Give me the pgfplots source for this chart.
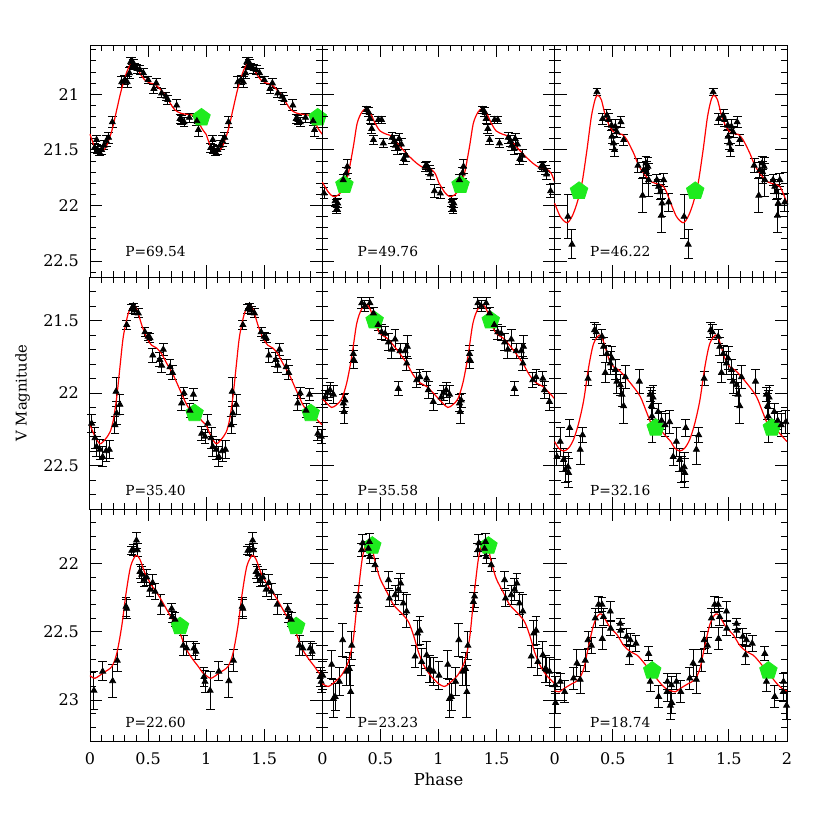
\documentclass[border=0pt]{standalone}
\usepackage{fontspec}
\setmainfont{DejaVu Serif}
\usepackage{pgfplots}
\pgfplotsset{compat=1.18}
\usepackage{pgfplotstable}
\usetikzlibrary{plotmarks}

\definecolor{pgreen}{RGB}{30,235,30}
\definecolor{pred}{RGB}{255,0,0}

% ---------------- Panel 1 (P=69.54)
\pgfplotstableread{
p m e
0.040 21.48 0.04
0.057 21.41 0.04
0.065 21.50 0.03
0.080 21.52 0.03
0.100 21.50 0.04
0.120 21.46 0.04
0.140 21.42 0.05
0.160 21.39 0.05
0.192 21.25 0.05
0.273 20.89 0.05
0.300 20.87 0.04
0.320 20.89 0.05
0.340 20.81 0.05
0.350 20.71 0.04
0.362 20.70 0.03
0.372 20.73 0.04
0.385 20.75 0.03
0.405 20.77 0.04
0.430 20.78 0.04
0.460 20.81 0.04
0.500 20.87 0.03
0.550 20.95 0.04
0.570 20.90 0.04
0.617 20.99 0.04
0.654 21.02 0.04
0.670 21.05 0.04
0.746 21.10 0.05
0.775 21.22 0.04
0.790 21.23 0.04
0.810 21.25 0.04
0.855 21.21 0.04
0.920 21.24 0.04
0.933 21.32 0.06
}\dA
\pgfplotstableread{
p m
0.00 21.36
0.04 21.47
0.09 21.52
0.14 21.47
0.19 21.32
0.23 21.14
0.27 20.96
0.32 20.79
0.36 20.72
0.39 20.74
0.43 20.81
0.47 20.87
0.52 20.90
0.56 20.91
0.60 20.95
0.65 21.01
0.69 21.08
0.73 21.14
0.78 21.17
0.83 21.18
0.89 21.19
0.93 21.24
0.965 21.31
1.00 21.36
}\cA
% ---------------- Panel 2 (P=49.76)
\pgfplotstableread{
p m e
0.015 21.89 0.05
0.110 21.96 0.05
0.120 22.00 0.05
0.125 22.03 0.04
0.132 21.98 0.04
0.180 21.77 0.05
0.205 21.71 0.05
0.215 21.65 0.06
0.380 21.14 0.03
0.397 21.16 0.04
0.410 21.22 0.04
0.425 21.31 0.04
0.440 21.41 0.04
0.482 21.23 0.03
0.510 21.23 0.03
0.525 21.44 0.04
0.600 21.39 0.05
0.620 21.42 0.05
0.630 21.46 0.05
0.650 21.49 0.05
0.660 21.40 0.05
0.680 21.45 0.05
0.700 21.58 0.05
0.720 21.55 0.05
0.885 21.65 0.04
0.900 21.64 0.04
0.920 21.68 0.04
0.930 21.72 0.05
0.965 21.87 0.06
}\dB
\pgfplotstableread{
p m
0.000 21.79
0.052 21.88
0.095 21.92
0.138 21.905
0.180 21.85
0.224 21.71
0.267 21.47
0.300 21.26
0.340 21.16
0.376 21.13
0.410 21.16
0.454 21.26
0.497 21.33
0.554 21.36
0.600 21.38
0.669 21.47
0.740 21.55
0.812 21.62
0.870 21.66
0.927 21.67
0.970 21.71
1.000 21.79
}\cB
% ---------------- Panel 3 (P=46.22)
\pgfplotstableread{
p m e
0.114 22.10 0.20
0.149 22.35 0.13
0.364 20.98 0.03
0.413 21.22 0.05
0.450 21.19 0.05
0.465 21.23 0.06
0.490 21.28 0.05
0.493 21.38 0.06
0.507 21.44 0.06
0.516 21.50 0.06
0.522 21.29 0.06
0.536 21.34 0.05
0.571 21.25 0.05
0.594 21.41 0.05
0.717 21.64 0.06
0.757 21.91 0.15
0.766 21.68 0.07
0.786 21.62 0.06
0.790 21.70 0.10
0.803 21.65 0.08
0.809 21.77 0.15
0.880 21.77 0.05
0.895 21.83 0.06
0.910 21.88 0.07
0.918 22.09 0.15
0.924 21.98 0.12
0.938 21.77 0.06
0.981 21.97 0.08
}\dC
\pgfplotstableread{
p m
0.000 21.98
0.049 22.10
0.106 22.155
0.149 22.10
0.192 21.98
0.235 21.80
0.278 21.50
0.316 21.20
0.350 21.04
0.373 21.01
0.402 21.05
0.436 21.19
0.479 21.30
0.522 21.35
0.580 21.36
0.622 21.41
0.680 21.53
0.723 21.64
0.780 21.73
0.838 21.79
0.900 21.81
0.938 21.83
0.967 21.89
1.000 21.98
}\cC
% ---------------- Panel 4 (P=35.40)
\pgfplotstableread{
p m e
0.014 22.21 0.06
0.043 22.31 0.07
0.057 22.37 0.07
0.086 22.39 0.07
0.109 22.44 0.07
0.138 22.40 0.07
0.166 22.39 0.06
0.215 22.22 0.06
0.224 21.99 0.10
0.230 22.14 0.08
0.258 22.08 0.07
0.316 21.53 0.03
0.359 21.42 0.03
0.373 21.40 0.02
0.387 21.43 0.03
0.416 21.45 0.03
0.473 21.58 0.03
0.500 21.61 0.03
0.516 21.62 0.03
0.540 21.74 0.05
0.600 21.77 0.05
0.617 21.81 0.05
0.631 21.70 0.04
0.689 21.82 0.05
0.710 21.86 0.05
0.789 22.07 0.05
0.809 22.00 0.04
0.860 22.12 0.05
0.890 22.01 0.04
0.961 22.28 0.05
0.990 22.30 0.05
}\dD
\pgfplotstableread{
p m
0.000 22.22
0.043 22.30
0.086 22.35
0.130 22.32
0.172 22.27
0.200 22.19
0.230 22.03
0.258 21.82
0.287 21.61
0.330 21.45
0.373 21.393
0.407 21.43
0.445 21.53
0.488 21.62
0.530 21.67
0.574 21.69
0.617 21.73
0.660 21.795
0.717 21.876
0.775 21.98
0.832 22.08
0.875 22.13
0.918 22.14
0.961 22.19
1.000 22.22
}\cD
% ---------------- Panel 5 (P=35.58)
\pgfplotstableread{
p m e
0.023 22.03 0.05
0.043 22.00 0.05
0.066 21.98 0.05
0.095 22.01 0.06
0.181 22.07 0.06
0.187 22.13 0.08
0.195 22.05 0.05
0.267 21.73 0.06
0.270 21.77 0.06
0.339 21.38 0.04
0.367 21.40 0.04
0.410 21.38 0.04
0.440 21.45 0.04
0.480 21.53 0.04
0.510 21.58 0.05
0.540 21.59 0.05
0.569 21.65 0.06
0.597 21.70 0.06
0.626 21.63 0.07
0.654 21.97 0.05
0.669 21.71 0.05
0.712 21.71 0.05
0.726 21.795 0.05
0.732 21.68 0.08
0.812 21.91 0.05
0.840 21.89 0.05
0.898 21.90 0.05
0.912 21.98 0.06
0.955 22.06 0.06
}\dE
\pgfplotstableread{
p m
0.000 22.04
0.037 22.07
0.080 22.10
0.124 22.08
0.167 22.04
0.210 21.93
0.253 21.75
0.296 21.52
0.339 21.42
0.382 21.39
0.416 21.43
0.454 21.52
0.497 21.59
0.554 21.62
0.611 21.67
0.669 21.73
0.726 21.795
0.783 21.876
0.841 21.93
0.898 21.955
0.955 22.00
1.000 22.04
}\cE
% ---------------- Panel 6 (P=32.16)
\pgfplotstableread{
p m e
0.020 22.44 0.06
0.048 22.335 0.10
0.077 22.46 0.08
0.092 22.53 0.09
0.115 22.51 0.10
0.120 22.55 0.10
0.129 22.24 0.06
0.220 22.39 0.10
0.240 22.29 0.05
0.287 21.90 0.05
0.344 21.565 0.05
0.358 21.58 0.05
0.407 21.61 0.05
0.421 21.68 0.06
0.436 21.86 0.07
0.450 21.73 0.06
0.479 21.795 0.08
0.493 21.76 0.08
0.522 21.84 0.07
0.536 21.92 0.08
0.565 21.945 0.07
0.579 22.01 0.08
0.594 22.09 0.12
0.608 21.89 0.08
0.729 21.92 0.08
0.823 22.01 0.05
0.832 22.09 0.09
0.838 22.16 0.18
0.847 22.03 0.08
0.890 22.13 0.06
0.920 22.19 0.06
0.950 22.22 0.08
0.990 22.20 0.08
}\dF
\pgfplotstableread{
p m
0.000 22.335
0.034 22.38
0.077 22.40
0.120 22.38
0.163 22.32
0.206 22.21
0.250 22.05
0.293 21.82
0.335 21.66
0.387 21.60
0.420 21.645
0.465 21.76
0.508 21.82
0.550 21.84
0.594 21.876
0.666 21.945
0.737 22.025
0.795 22.14
0.838 22.22
0.895 22.24
0.938 22.28
1.000 22.335
}\cF
% ---------------- Panel 7 (P=22.60)
\pgfplotstableread{
p m e
0.034 22.93 0.14
0.109 22.79 0.07
0.195 22.86 0.12
0.235 22.71 0.08
0.310 22.315 0.07
0.316 22.33 0.07
0.359 21.905 0.03
0.373 21.90 0.04
0.400 21.83 0.06
0.407 21.90 0.05
0.430 22.06 0.05
0.445 22.08 0.06
0.465 22.12 0.05
0.488 22.10 0.06
0.516 22.19 0.05
0.539 22.14 0.06
0.560 22.205 0.06
0.611 22.30 0.07
0.703 22.33 0.04
0.708 22.39 0.04
0.732 22.41 0.05
0.803 22.60 0.07
0.832 22.62 0.05
0.895 22.62 0.05
0.912 22.645 0.06
0.981 22.83 0.07
0.990 22.865 0.08
}\dG
\pgfplotstableread{
p m
0.000 22.82
0.043 22.84
0.115 22.80
0.187 22.755
0.230 22.66
0.273 22.46
0.310 22.22
0.350 22.02
0.396 21.94
0.430 21.97
0.473 22.07
0.531 22.16
0.588 22.23
0.646 22.315
0.703 22.40
0.760 22.475
0.818 22.61
0.875 22.69
0.933 22.755
0.970 22.80
1.000 22.82
}\cG
% ---------------- Panel 8 (P=23.23)
\pgfplotstableread{
p m e
0.004 22.82 0.10
0.080 22.74 0.10
0.095 22.99 0.14
0.110 22.975 0.10
0.147 22.865 0.10
0.175 22.56 0.12
0.210 22.79 0.10
0.232 22.77 0.12
0.244 22.94 0.19
0.253 22.60 0.10
0.300 22.28 0.07
0.310 22.24 0.08
0.339 21.90 0.05
0.347 21.85 0.06
0.396 21.89 0.05
0.405 21.84 0.06
0.410 21.95 0.05
0.454 22.01 0.05
0.569 22.12 0.06
0.577 22.255 0.06
0.626 22.23 0.07
0.655 22.19 0.08
0.675 22.145 0.07
0.697 22.29 0.08
0.726 22.35 0.12
0.798 22.68 0.08
0.820 22.51 0.09
0.840 22.49 0.10
0.855 22.72 0.10
0.898 22.67 0.10
0.920 22.77 0.10
0.930 22.78 0.09
0.955 22.79 0.10
}\dH
\pgfplotstableread{
p m
0.000 22.88
0.052 22.90
0.110 22.865
0.167 22.816
0.224 22.72
0.267 22.55
0.300 22.28
0.339 21.99
0.367 21.876
0.396 21.85
0.425 21.876
0.454 21.985
0.497 22.11
0.554 22.205
0.611 22.30
0.683 22.365
0.740 22.425
0.783 22.52
0.826 22.645
0.870 22.74
0.927 22.816
1.000 22.88
}\cH
% ---------------- Panel 9 (P=18.74)
\pgfplotstableread{
p m e
0.005 22.89 0.06
0.008 23.02 0.08
0.048 22.865 0.06
0.086 22.94 0.08
0.163 22.84 0.08
0.192 22.73 0.10
0.220 22.85 0.10
0.264 22.71 0.08
0.287 22.56 0.06
0.316 22.60 0.06
0.350 22.40 0.07
0.378 22.30 0.06
0.407 22.30 0.05
0.410 22.55 0.08
0.420 22.39 0.06
0.479 22.35 0.07
0.482 22.475 0.05
0.565 22.44 0.04
0.568 22.49 0.05
0.620 22.535 0.06
0.643 22.67 0.07
0.651 22.56 0.05
0.700 22.585 0.06
0.809 22.66 0.05
0.823 22.865 0.07
0.895 22.975 0.08
0.967 22.94 0.07
0.970 22.865 0.06
0.996 23.04 0.10
}\dI
\pgfplotstableread{
p m
0.000 22.93
0.038 22.94
0.090 22.91
0.149 22.88
0.206 22.85
0.250 22.77
0.293 22.60
0.335 22.45
0.373 22.38
0.402 22.37
0.436 22.41
0.479 22.47
0.536 22.52
0.594 22.60
0.651 22.645
0.708 22.67
0.752 22.71
0.809 22.77
0.866 22.83
0.924 22.89
0.981 22.93
1.000 22.93
}\cI

\pgfplotsset{
  panel/.style={
    scale only axis, width=116.17pt, height=116pt,
    anchor=north west, xmin=0, xmax=2, y dir=reverse, clip=false,
    xtick={0,0.5,1,1.5,2}, minor xtick={0,0.1,...,2},
    xticklabels={}, yticklabels={},
    tick align=inside, xtick pos=both, ytick pos=both,
    major tick length=6pt, minor tick length=3pt,
    axis line style={line width=0.5pt},
    every tick/.style={black, line width=0.5pt},
    tick label style={font=\fontsize{8}{9}\selectfont},
    xticklabel style={yshift=-2.5pt},
    yticklabel style={xshift=-2pt},
    /pgf/number format/assume math mode=true,
  },
  rowA/.style={ymin=20.557, ymax=22.643, ytick={21,21.5,22,22.5}, minor ytick={20.6,20.7,...,22.65}},
  rowB/.style={ymin=21.2, ymax=22.8, ytick={21.5,22,22.5}, minor ytick={21.2,21.3,...,22.85}},
  rowC/.style={ymin=21.6, ymax=23.3, ytick={22,22.5,23}, minor ytick={21.6,21.7,...,23.35}},
  datapts/.style={only marks, mark=triangle*, mark size=1.7pt, black,
    mark options={fill=black, draw=black},
    error bars/.cd, y dir=both, y explicit,
    error bar style={line width=0.5pt, black},
    error mark options={rotate=90, mark size=2.2pt, line width=0.5pt, black}},
  model/.style={pred, line width=0.6pt, smooth, no marks},
  refpt/.style={only marks, mark=pentagon*, mark size=4.6pt,
    mark options={draw=pgreen, fill=pgreen}},
}

\newcommand{\drawpanel}[3]{%
  \addplot[refpt] coordinates {#3};
  \addplot[datapts] table[x=p, y=m, y error=e] {#1};
  \addplot[datapts] table[x expr=\thisrow{p}+1, y=m, y error=e] {#1};
  \addplot[model] table[x=p, y=m] {#2};
  \addplot[model] table[x expr=\thisrow{p}+1, y=m] {#2};
}
\newcommand{\plab}[2]{\node[font=\fontsize{6.9}{8}\selectfont] at (axis description cs:0.282,#1) {#2};}

\begin{document}
\begin{tikzpicture}
\useasboundingbox (-45pt,-392.5pt) rectangle (370pt,22.5pt);
% Row 1
\begin{axis}[panel, rowA, at={(0pt,0pt)}, yticklabels={21,21.5,22,22.5}]
\drawpanel{\dA}{\cA}{(0.96,21.21) (1.96,21.21)}
\plab{0.108}{P=69.54}
\end{axis}
\begin{axis}[panel, rowA, at={(116.17pt,0pt)}]
\drawpanel{\dB}{\cB}{(0.19,21.815) (1.19,21.815)}
\plab{0.108}{P=49.76}
\end{axis}
\begin{axis}[panel, rowA, at={(232.33pt,0pt)}]
\drawpanel{\dC}{\cC}{(0.21,21.87) (1.21,21.87)}
\plab{0.108}{P=46.22}
\end{axis}
% Row 2
\begin{axis}[panel, rowB, at={(0pt,-116pt)}, yticklabels={21.5,22,22.5},
  ylabel={V Magnitude},
  ylabel style={at={(axis description cs:-0.29,0.5)}, anchor=center, font=\fontsize{7.4}{9}\selectfont}]
\drawpanel{\dD}{\cD}{(0.90,22.14) (1.90,22.14)}
\plab{0.082}{P=35.40}
\end{axis}
\begin{axis}[panel, rowB, at={(116.17pt,-116pt)}]
\drawpanel{\dE}{\cE}{(0.45,21.50) (1.45,21.50)}
\plab{0.082}{P=35.58}
\end{axis}
\begin{axis}[panel, rowB, at={(232.33pt,-116pt)}]
\drawpanel{\dF}{\cF}{(0.87,22.24) (1.87,22.24)}
\plab{0.082}{P=32.16}
\end{axis}
% Row 3
\begin{axis}[panel, rowC, at={(0pt,-232pt)}, yticklabels={22,22.5,23},
  xticklabels={0,0.5,1,1.5,}]
\drawpanel{\dG}{\cG}{(0.775,22.46) (1.775,22.46)}
\plab{0.079}{P=22.60}
\end{axis}
\begin{axis}[panel, rowC, at={(116.17pt,-232pt)}, xticklabels={0,0.5,1,1.5,},
  xlabel={Phase},
  xlabel style={at={(axis description cs:0.5,-0.164)}, anchor=center, font=\fontsize{8.2}{9}\selectfont}]
\drawpanel{\dH}{\cH}{(0.43,21.87) (1.43,21.87)}
\plab{0.079}{P=23.23}
\end{axis}
\begin{axis}[panel, rowC, at={(232.33pt,-232pt)}, xticklabels={0,0.5,1,1.5,2}]
\drawpanel{\dI}{\cI}{(0.84,22.785) (1.84,22.785)}
\plab{0.079}{P=18.74}
\end{axis}
\end{tikzpicture}
\end{document}
